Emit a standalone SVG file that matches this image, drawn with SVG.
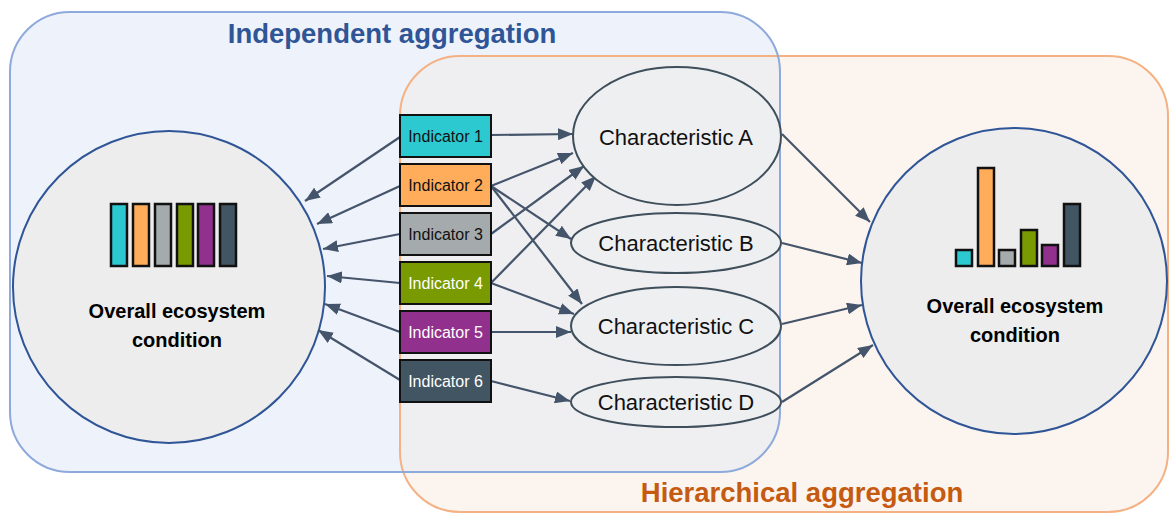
<svg xmlns="http://www.w3.org/2000/svg" width="1169" height="514" viewBox="0 0 1169 514">
  <style>
    .title { font-family: "Liberation Sans", Arial, sans-serif; font-weight: bold; font-size: 27.5px; text-anchor: middle; }
    .big { font-family: "Liberation Sans", Arial, sans-serif; font-weight: bold; font-size: 20px; text-anchor: middle; fill: #000; }
    .ind rect { stroke: #111; stroke-width: 2; }
    .ind text { font-family: "Liberation Sans", Arial, sans-serif; font-size: 16px; text-anchor: middle; }
    .char ellipse { fill: #EEEFF1; stroke: #3E4E5B; stroke-width: 2; }
    .char text { font-family: "Liberation Sans", Arial, sans-serif; font-size: 22px; text-anchor: middle; fill: #111; }
    .whole circle { fill: #EDEDED; stroke: #2F5597; stroke-width: 2; }
    .bar { stroke: #111; stroke-width: 2.5; }
    #connectors line { stroke: #44546A; stroke-width: 2.2; marker-end: url(#head); }
    .c1 { fill: #2CC9D1; } .c2 { fill: #FFAD5B; } .c3 { fill: #A5AAAC; }
    .c4 { fill: #7A9A01; } .c5 { fill: #92308D; } .c6 { fill: #425563; }
  </style>
  <defs>
    <marker id="head" markerUnits="userSpaceOnUse" markerWidth="15" markerHeight="12" refX="15" refY="6" orient="auto">
      <path d="M0,0 L15,6 L0,12 z" fill="#44546A"/>
    </marker>
    <clipPath id="blueArea">
      <rect x="10" y="12" width="770" height="460" rx="60" ry="60"/>
    </clipPath>
  </defs>

  <rect width="1169" height="514" fill="#ffffff"/>

  <!-- aggregation regions -->
  <g id="regions">
    <rect x="10" y="12" width="770" height="460" rx="60" ry="60" fill="#EEF2FA"/>
    <rect x="400" y="56" width="768" height="456" rx="60" ry="60" fill="#FCF4EF"/>
    <rect x="400" y="56" width="768" height="456" rx="60" ry="60" fill="#EFEFF1" clip-path="url(#blueArea)"/>
    <rect x="400" y="56" width="768" height="456" rx="60" ry="60" fill="none" stroke="#F4B183" stroke-width="2"/>
    <rect x="10" y="12" width="770" height="460" rx="60" ry="60" fill="none" stroke="#8EA9DB" stroke-width="2"/>
    <text class="title" x="392" y="43" fill="#2F5597">Independent aggregation</text>
    <text class="title" x="802" y="502" fill="#C55A11">Hierarchical aggregation</text>
  </g>

  <!-- overall condition, independent -->
  <g id="overall-independent" class="whole">
    <circle cx="169" cy="287" r="156"/>
    <rect class="bar c1" x="111" y="204" width="16" height="62"/>
    <rect class="bar c2" x="133" y="204" width="16" height="62"/>
    <rect class="bar c3" x="155" y="204" width="16" height="62"/>
    <rect class="bar c4" x="177" y="204" width="16" height="62"/>
    <rect class="bar c5" x="198" y="204" width="16" height="62"/>
    <rect class="bar c6" x="220" y="204" width="16" height="62"/>
    <text class="big" x="177" y="318">Overall ecosystem</text>
    <text class="big" x="177" y="347">condition</text>
  </g>

  <!-- overall condition, hierarchical -->
  <g id="overall-hierarchical" class="whole">
    <circle cx="1014" cy="281" r="153"/>
    <rect class="bar c1" x="956" y="250" width="16" height="16"/>
    <rect class="bar c2" x="978" y="168" width="16" height="98"/>
    <rect class="bar c3" x="999" y="250" width="16" height="16"/>
    <rect class="bar c4" x="1021" y="230" width="16" height="36"/>
    <rect class="bar c5" x="1042" y="245" width="16" height="21"/>
    <rect class="bar c6" x="1064" y="204" width="16" height="62"/>
    <text class="big" x="1015" y="313">Overall ecosystem</text>
    <text class="big" x="1015" y="342">condition</text>
  </g>

  <!-- connectors -->
  <g id="connectors">
    <line x1="400" y1="137" x2="305" y2="201"/>
    <line x1="400" y1="186" x2="317" y2="224"/>
    <line x1="400" y1="234" x2="323" y2="249"/>
    <line x1="400" y1="283" x2="327" y2="276"/>
    <line x1="400" y1="332" x2="325" y2="304"/>
    <line x1="400" y1="380" x2="318" y2="330"/>

    <line x1="491" y1="135" x2="573" y2="134"/>
    <line x1="491" y1="186" x2="573" y2="153"/>
    <line x1="491" y1="186" x2="571" y2="239"/>
    <line x1="491" y1="186" x2="582" y2="304"/>
    <line x1="491" y1="234" x2="584" y2="166"/>
    <line x1="491" y1="283" x2="596" y2="176"/>
    <line x1="491" y1="283" x2="574" y2="314"/>
    <line x1="491" y1="332" x2="571" y2="332"/>
    <line x1="491" y1="381" x2="570" y2="401"/>

    <line x1="782" y1="134" x2="870" y2="222"/>
    <line x1="782" y1="243" x2="862" y2="263"/>
    <line x1="782" y1="324" x2="862" y2="305"/>
    <line x1="782" y1="402" x2="873" y2="345"/>
  </g>

  <!-- indicators -->
  <g id="indicator-1" class="ind"><rect class="c1" x="400" y="115" width="91" height="42"/><text x="445.5" y="141.5" fill="#111">Indicator 1</text></g>
  <g id="indicator-2" class="ind"><rect class="c2" x="400" y="164" width="91" height="42"/><text x="445.5" y="190.5" fill="#111">Indicator 2</text></g>
  <g id="indicator-3" class="ind"><rect class="c3" x="400" y="213" width="91" height="42"/><text x="445.5" y="239.5" fill="#111">Indicator 3</text></g>
  <g id="indicator-4" class="ind"><rect class="c4" x="400" y="262" width="91" height="42"/><text x="445.5" y="288.5" fill="#fff">Indicator 4</text></g>
  <g id="indicator-5" class="ind"><rect class="c5" x="400" y="311" width="91" height="42"/><text x="445.5" y="337.5" fill="#fff">Indicator 5</text></g>
  <g id="indicator-6" class="ind"><rect class="c6" x="400" y="360" width="91" height="42"/><text x="445.5" y="386.5" fill="#fff">Indicator 6</text></g>

  <!-- characteristics -->
  <g id="characteristic-a" class="char"><ellipse cx="677" cy="136" rx="104" ry="69"/><text x="676" y="145">Characteristic A</text></g>
  <g id="characteristic-b" class="char"><ellipse cx="676" cy="243" rx="105" ry="30"/><text x="676" y="251">Characteristic B</text></g>
  <g id="characteristic-c" class="char"><ellipse cx="676" cy="326" rx="105" ry="39"/><text x="676" y="334">Characteristic C</text></g>
  <g id="characteristic-d" class="char"><ellipse cx="676" cy="402" rx="105" ry="25"/><text x="676" y="410">Characteristic D</text></g>
</svg>
